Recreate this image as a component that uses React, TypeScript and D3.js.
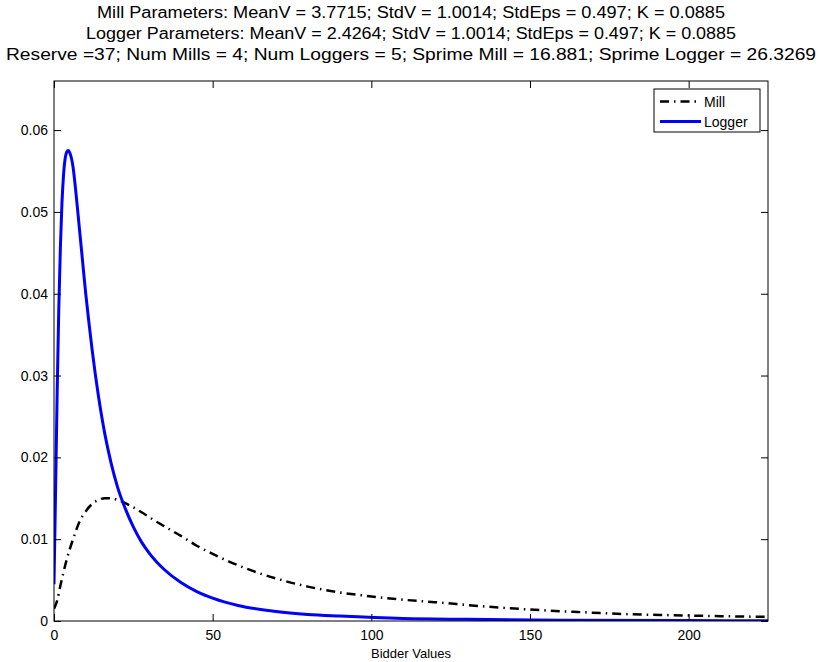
import { useEffect, useRef } from "react";
import * as d3 from "d3";

const WIDTH = 820;
const HEIGHT = 662;
const MARGIN = { top: 81, right: 52, bottom: 41, left: 54 };

const titleLines = [
  "Mill Parameters: MeanV = 3.7715; StdV = 1.0014; StdEps = 0.497; K = 0.0885",
  "Logger Parameters: MeanV = 2.4264; StdV = 1.0014; StdEps = 0.497; K = 0.0885",
  "Reserve =37; Num Mills = 4; Num Loggers = 5; Sprime Mill = 16.881; Sprime Logger = 26.3269",
];
const titleWidths = [628, 650, 810];

const xTicks = [0, 50, 100, 150, 200];
const yTicks = [0, 0.01, 0.02, 0.03, 0.04, 0.05, 0.06];

// Mill density
const millX = [0, 1, 2, 4, 6, 8, 10, 12, 14, 16, 18, 20, 24, 28, 32, 36, 40, 45, 50, 55, 60, 65, 70, 80, 90, 100, 110, 120, 135, 150, 165, 180, 200, 225];
const millY = [0.0015, 0.0025, 0.0043, 0.0075, 0.01, 0.0121, 0.0134, 0.0143, 0.0148, 0.015, 0.015, 0.0148, 0.0141, 0.0132, 0.0122, 0.0113, 0.0104, 0.0092, 0.0082, 0.0073, 0.0065, 0.0058, 0.0052, 0.0042, 0.0035, 0.003, 0.0026, 0.0023, 0.0018, 0.0014, 0.0011, 0.00085, 0.00067, 0.0005];

// Logger density
const loggerX = [0, 0.5, 1, 1.5, 2, 2.5, 3, 3.5, 4, 4.5, 5, 6, 7, 8, 9, 10, 11, 12, 13, 14, 15, 16, 18, 20, 22.5, 25, 27.5, 30, 35, 40, 45, 50, 58, 70, 80, 90, 110, 130, 160, 200, 225];
const loggerY = [0.0045, 0.016, 0.028, 0.038, 0.0455, 0.051, 0.0545, 0.0565, 0.0573, 0.0575, 0.0572, 0.0555, 0.052, 0.048, 0.044, 0.04, 0.0365, 0.0332, 0.0302, 0.0275, 0.0251, 0.0229, 0.0193, 0.0164, 0.0137, 0.0115, 0.0097, 0.0083, 0.0062, 0.0047, 0.0036, 0.0028, 0.0019, 0.00115, 0.0008, 0.0006, 0.0003, 0.0002, 0.0001, 0.00005, 0.00003];

const seriesNames = ["Mill", "Logger"];

export default function App() {
  const axesRef = useRef<SVGGElement>(null);
  const boundsWidth = WIDTH - MARGIN.left - MARGIN.right;
  const boundsHeight = HEIGHT - MARGIN.top - MARGIN.bottom;

  const xScale = d3.scaleLinear().domain([0, 225]).range([0, boundsWidth]);
  const yScale = d3.scaleLinear().domain([0, 0.066]).range([boundsHeight, 0]);

  useEffect(() => {
    const g = d3.select(axesRef.current);
    g.selectAll("*").remove();
    const font = "'Liberation Sans', Arial, sans-serif";

    // bottom and left axes with labels, ticks pointing inward
    const xAxis = g
      .append("g")
      .attr("transform", `translate(0,${boundsHeight})`)
      .call(d3.axisBottom(xScale).tickValues(xTicks).tickSizeInner(-7).tickSizeOuter(0).tickPadding(6));
    const yAxis = g
      .append("g")
      .call(
        d3
          .axisLeft(yScale)
          .tickValues(yTicks)
          .tickSizeInner(-7)
          .tickSizeOuter(0)
          .tickPadding(6)
          .tickFormat((d) => (d === 0 ? "0" : d3.format(".2f")(d as number)))
      );
    // top and right: ticks only
    const xTop = g
      .append("g")
      .call(d3.axisTop(xScale).tickValues(xTicks).tickSizeInner(-7).tickSizeOuter(0).tickFormat(() => ""));
    const yRight = g
      .append("g")
      .attr("transform", `translate(${boundsWidth},0)`)
      .call(d3.axisRight(yScale).tickValues(yTicks).tickSizeInner(-7).tickSizeOuter(0).tickFormat(() => ""));

    [xAxis, yAxis, xTop, yRight].forEach((a) => {
      a.select(".domain").remove();
      a.selectAll("line").attr("stroke", "#000");
      a.selectAll("text").attr("font-family", font).attr("font-size", 14).attr("fill", "#000");
    });
    xAxis.selectAll("text").attr("dy", "0.95em");
  }, [xScale, yScale, boundsHeight, boundsWidth]);

  const line = d3
    .line<[number, number]>()
    .x((d) => xScale(d[0]))
    .y((d) => yScale(d[1]))
    .curve(d3.curveMonotoneX);

  const millPath = line(millX.map((x, i) => [x, millY[i]])) || "";
  const loggerPath = line(loggerX.map((x, i) => [x, loggerY[i]])) || "";

  const font = "'Liberation Sans', Arial, sans-serif";
  const dash = "9,5,1.5,5";
  const lg = { x: 654, y: 89, w: 106, h: 43 };

  return (
    <svg
      width={WIDTH}
      height={HEIGHT}
      style={{ position: "absolute", left: 0, top: 0, background: "#fff" }}
      fontFamily={font}
    >
      <rect width={WIDTH} height={HEIGHT} fill="#fff" />
      {titleLines.map((t, i) => (
        <text
          key={i}
          x={MARGIN.left + boundsWidth / 2}
          y={18 + i * 21}
          textAnchor="middle"
          fontSize={16}
          textLength={titleWidths[i]}
          lengthAdjust="spacingAndGlyphs"
        >
          {t}
        </text>
      ))}
      <g transform={`translate(${MARGIN.left},${MARGIN.top})`}>
        <defs>
          <clipPath id="plot-clip">
            <rect width={boundsWidth} height={boundsHeight} />
          </clipPath>
        </defs>
        <g clipPath="url(#plot-clip)">
          <path d={millPath} fill="none" stroke="#000" strokeWidth={2.5} strokeDasharray={dash} />
          <path d={loggerPath} fill="none" stroke="#0000ff" strokeWidth={3} />
        </g>
        <rect width={boundsWidth} height={boundsHeight} fill="none" stroke="#000" strokeWidth={1} />
        <g ref={axesRef} />
        <text x={boundsWidth / 2} y={boundsHeight + 37} textAnchor="middle" fontSize={13}>
          Bidder Values
        </text>
      </g>
      <g>
        <rect x={lg.x} y={lg.y} width={lg.w} height={lg.h} fill="#fff" stroke="#000" strokeWidth={1} />
        {seriesNames.map((name, i) => (
          <g key={name} transform={`translate(${lg.x},${lg.y + 12.5 + i * 20})`}>
            <line
              x1={6}
              x2={47}
              y1={0}
              y2={0}
              stroke={i === 0 ? "#000" : "#0000ff"}
              strokeWidth={i === 0 ? 2.5 : 3}
              strokeDasharray={i === 0 ? dash : undefined}
            />
            <text x={50} y={5} fontSize={14}>
              {name}
            </text>
          </g>
        ))}
      </g>
    </svg>
  );
}
